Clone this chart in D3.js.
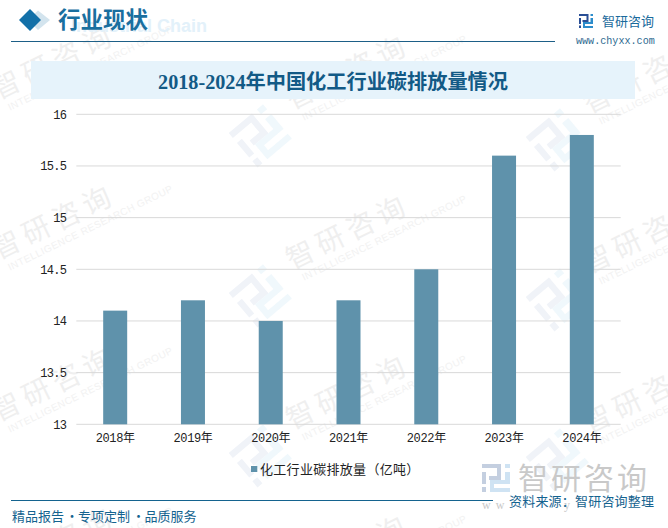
<!DOCTYPE html>
<html><head><meta charset="utf-8">
<script src="https://cdnjs.cloudflare.com/ajax/libs/d3/7.8.5/d3.min.js"></script>
<style>html,body{margin:0;padding:0;background:#fff}svg{display:block}</style>
</head><body><svg id="c" width="668" height="528"></svg>
<script>
const years=["2018年","2019年","2020年","2021年","2022年","2023年","2024年"];
const emissions=[14.1,14.2,14.0,14.2,14.5,15.6,15.8];
const yTicks=[13,13.5,14,14.5,15,15.5,16];
const seriesName="化工行业碳排放量（亿吨）";
const chartTitle="2018-2024年中国化工行业碳排放量情况";
const sectionTitle="行业现状";
const footerParts=["精品报告","·","专项定制","·","品质服务"];
const footerRight="资料来源：智研咨询整理";
const brand="智研咨询";
const website="www.chyxx.com";
const wmEnglish="INTELLIGENCE RESEARCH GROUP";

const serif="'Liberation Serif','Noto Sans CJK SC',serif";
const cjk="'Noto Sans CJK SC','Noto Sans',sans-serif";
const mono="'Liberation Mono','Noto Sans CJK SC',monospace";
const svg=d3.select("#c");
const wmOrigins=[[-2,100],[-2,260],[-2,422],[-2,582],[292,110],[292,270],[292,430],[292,590],[589,114],[589,274],[589,434]];

function logoMark(g,s,c1,c2){
  [["M0 0H19V16H7V12H15V4H0Z",c1],["M0 8H4V20H0Z",c1],["M0 23H4V28H0Z",c1],
   ["M23 0H28V4H23Z",c2],["M23 8H28V20H12V24H28V28H8V16H23Z",c2]]
  .forEach(p=>g.append("path").attr("d",p[0]).attr("fill",p[1]).attr("transform",`scale(${s})`));
}

// watermarks
const wm=svg.append("g");
wmOrigins.forEach(([x,y])=>{
  const g=wm.append("g").attr("transform",`translate(${x},${y}) rotate(-26)`);
  const m=g.append("g").attr("transform","translate(-67,-7) rotate(-14)");
  logoMark(m,1.6,"#f0f3f8","#f0f8fc");
  g.append("text").attr("x",0).attr("y",0).attr("font-family",cjk).attr("font-size",28)
   .attr("letter-spacing",5.5).attr("fill","#efefef").text(brand);
  g.append("text").attr("x",6).attr("y",15).attr("font-family","'Liberation Sans',sans-serif").attr("font-size",10)
   .attr("letter-spacing",.45).attr("fill","#f2f2f2").text(wmEnglish);
});
svg.append("text").attr("x",207).attr("y",31.5).attr("text-anchor","end").attr("font-family","'Liberation Sans',sans-serif").attr("font-weight","bold")
  .attr("font-size",18).attr("fill","#e3f1fa").text("Industrial Chain");

// header
svg.append("path").attr("d","M38 10.5 L50 20 L38 30 L28 20Z").attr("fill","#d3e4ee");
svg.append("path").attr("d","M30 9 L41 20 L30 31 L19 20Z").attr("fill","#1370a8");
svg.append("text").attr("x",58).attr("y",28).attr("font-family",serif).attr("font-weight",700).attr("font-size",22.5).attr("fill","#1a6f9f").text(sectionTitle);
svg.append("line").attr("x1",11).attr("x2",555).attr("y1",41.5).attr("y2",41.5).attr("stroke","#1d5f87").attr("stroke-width",1.2);
const lg=svg.append("g").attr("transform","translate(579,14)");
logoMark(lg,.5,"#2a4f96","#2c8ccb");
svg.append("text").attr("x",602).attr("y",26).attr("font-family",cjk).attr("font-size",13).attr("fill","#1a6a9c").text(brand);
svg.append("text").attr("x",576).attr("y",44).attr("font-family",mono).attr("font-size",10.1).attr("fill","#2d6a90").text(website);

// title band
svg.append("rect").attr("x",31).attr("y",61).attr("width",604).attr("height",38).attr("fill","#e6f3fb");
svg.append("text").attr("x",333).attr("y",89).attr("text-anchor","middle").attr("font-family",serif).attr("font-weight",700).attr("font-size",20.2).attr("fill","#125a86").text(chartTitle);

// chart
const x=d3.scaleBand().domain(years).range([76.3,620.7]);
const y=d3.scaleLinear().domain([13,16]).range([424.3,114.3]);
const barW=24;
svg.append("g").selectAll("line").data(yTicks).join("line").attr("x1",76.3).attr("x2",620.7)
  .attr("y1",d=>y(d)).attr("y2",d=>y(d)).attr("stroke","#d9d9d9").attr("stroke-width",1);
svg.append("g").selectAll("rect").data(emissions).join("rect")
  .attr("x",(d,i)=>x(years[i])+x.bandwidth()/2-barW/2).attr("width",barW)
  .attr("y",d=>y(d)).attr("height",d=>y(13)-y(d)).attr("fill","#5f92ab");

const ya=svg.append("g").attr("transform","translate(76.3,0)")
  .call(d3.axisLeft(y).tickValues(yTicks).tickSize(0).tickPadding(10).tickFormat(d3.format("~g")));
ya.select(".domain").remove();
ya.selectAll("text").attr("font-family",mono).attr("font-size",12).attr("letter-spacing",-.7).attr("fill","#222");
const xa=svg.append("g").attr("transform","translate(0,424.3)")
  .call(d3.axisBottom(x).tickSize(0).tickPadding(9));
xa.select(".domain").remove();
xa.selectAll("text").attr("font-family",mono).attr("font-size",12).attr("letter-spacing",-.35).attr("fill","#222");

// legend
svg.append("rect").attr("x",251).attr("y",466).attr("width",6.3).attr("height",6).attr("fill","#5f92ab");
svg.append("text").attr("x",260).attr("y",473.5).attr("font-family",cjk).attr("font-size",13).attr("letter-spacing",.3).attr("fill","#222").text(seriesName);

// footer
svg.append("line").attr("x1",11).attr("x2",493).attr("y1",500.5).attr("y2",500.5).attr("stroke","#14638f").attr("stroke-width",1.2);
const footX=[12,65.5,78,132,144.5];
const ft=svg.append("text").attr("y",521).attr("font-family",cjk).attr("font-size",13).attr("fill","#14638f");
ft.selectAll("tspan").data(footerParts).join("tspan").attr("x",(d,i)=>footX[i]).text(d=>d);
const wl=svg.append("g").attr("transform","translate(482,464)");
logoMark(wl,1,"#c4cfe0","#cfe3f3");
svg.append("text").attr("x",518).attr("y",489).attr("font-family",cjk).attr("font-size",30).attr("letter-spacing",3).attr("fill","#c9c9c9").text(brand);
svg.append("text").attr("x",482).attr("y",509).attr("font-family",serif).attr("font-size",12).attr("letter-spacing",5).attr("fill","#c9c9c9").text("ww");
svg.append("text").attr("x",564).attr("y",509).attr("font-family",serif).attr("font-size",12).attr("fill","#c9c9c9").text("y");
svg.append("text").attr("x",509).attr("y",506).attr("font-family",cjk).attr("font-size",13).attr("letter-spacing",.2).attr("fill","#14638f").text(footerRight);
</script></body></html>
